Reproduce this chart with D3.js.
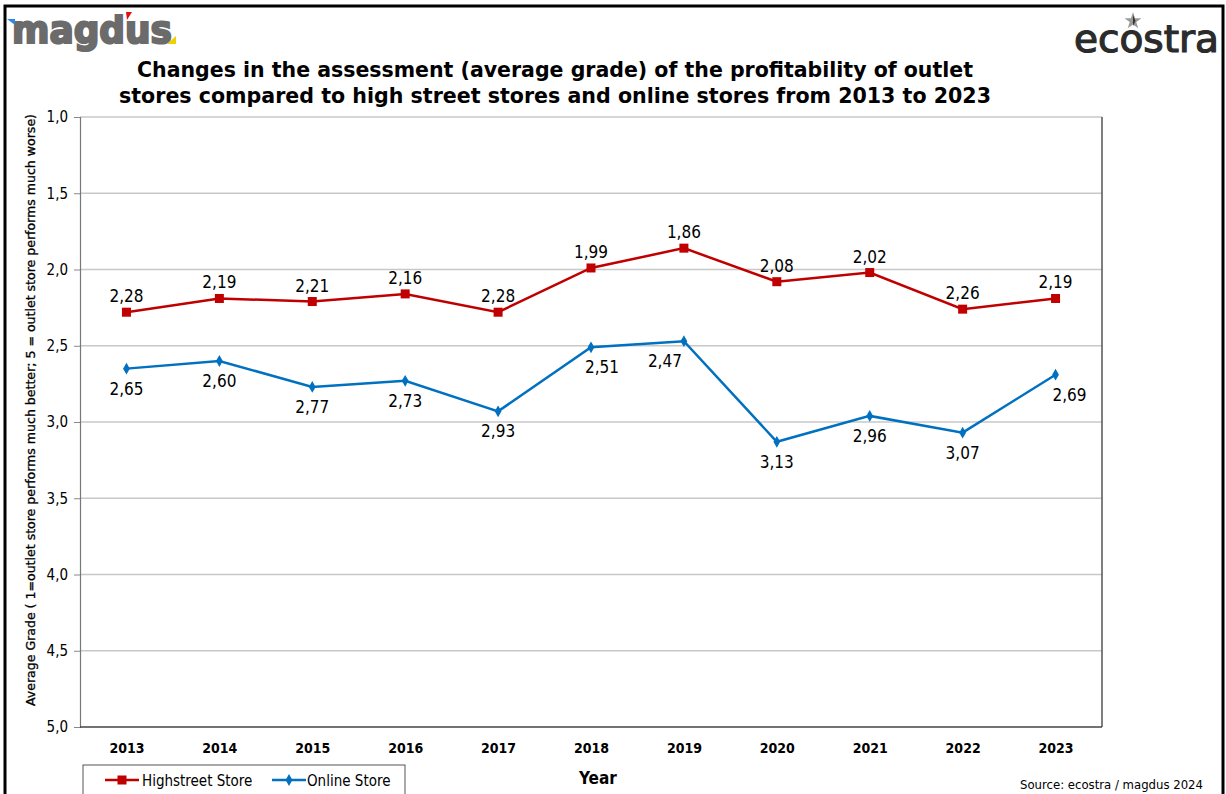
<!DOCTYPE html>
<html><head><meta charset="utf-8">
<script src="https://cdn.jsdelivr.net/npm/d3@7"></script>
<style>body{margin:0;background:#fff}svg{display:block}</style>
</head><body>
<svg id="c" width="1226" height="794"></svg>
<script>
const years = ["2013","2014","2015","2016","2017","2018","2019","2020","2021","2022","2023"];
const highstreet = [2.28,2.19,2.21,2.16,2.28,1.99,1.86,2.08,2.02,2.26,2.19];
const online = [2.65,2.60,2.77,2.73,2.93,2.51,2.47,3.13,2.96,3.07,2.69];
const yTicks = [1.0,1.5,2.0,2.5,3.0,3.5,4.0,4.5,5.0];
const seriesNames = ["Highstreet Store","Online Store"];

const svg = d3.select("#c");
const m={l:80,r:1102,t:117,b:727};
const RED="#C00000", BLUE="#0070C0";
const FONT="'DejaVu Sans Condensed','DejaVu Sans',sans-serif";
const fmt = v => v.toFixed(2).replace(".",",");

// outer frame
svg.append("rect").attr("x",5).attr("y",6).attr("width",1218).attr("height",800)
  .attr("fill","none").attr("stroke","#000").attr("stroke-width",3);

const x = d3.scalePoint().domain(years).range([m.l,m.r]).padding(0.5);
const y = d3.scaleLinear().domain([1,5]).range([m.t,m.b]);

// grid
svg.append("g").selectAll("line").data(yTicks.slice(0,-1)).join("line")
  .attr("x1",m.l).attr("x2",m.r).attr("y1",d=>y(d)).attr("y2",d=>y(d))
  .attr("stroke","#c8c8c8").attr("stroke-width",1.5);

// y axis
const ya = svg.append("g").attr("transform",`translate(${m.l},0)`)
  .call(d3.axisLeft(y).tickValues(yTicks).tickSize(6).tickFormat(d=>d.toFixed(1).replace(".",",")));
ya.select(".domain").attr("stroke","#777").attr("stroke-width",1.2);
ya.selectAll(".tick line").attr("stroke","#888");
ya.selectAll(".tick text").attr("font-family",FONT).attr("font-size",15).attr("fill","#000").attr("x",-12);

// plot border right & bottom
svg.append("line").attr("x1",m.r).attr("x2",m.r).attr("y1",m.t).attr("y2",m.b).attr("stroke","#555").attr("stroke-width",1.5);
svg.append("line").attr("x1",m.l).attr("x2",m.r).attr("y1",m.b).attr("y2",m.b).attr("stroke","#444").attr("stroke-width",1.5);

// x axis labels
const xa = svg.append("g").attr("transform",`translate(0,${m.b})`)
  .call(d3.axisBottom(x).tickSize(0));
xa.select(".domain").remove();
xa.selectAll(".tick text").attr("font-family",FONT).attr("font-size",14).attr("font-weight","bold")
  .attr("fill","#000").attr("dy","1.65em");

// lines
const line = d3.line().x((d,i)=>x(years[i])).y(d=>y(d));
svg.append("path").datum(highstreet).attr("d",line).attr("fill","none").attr("stroke",RED).attr("stroke-width",2.5);
svg.append("path").datum(online).attr("d",line).attr("fill","none").attr("stroke",BLUE).attr("stroke-width",2.5);

svg.append("g").selectAll("rect").data(highstreet).join("rect")
  .attr("x",(d,i)=>x(years[i])-4.5).attr("y",d=>y(d)-4.5).attr("width",9).attr("height",9).attr("fill",RED);
const dia = d3.symbol().type(d3.symbolDiamond).size(40);
svg.append("g").selectAll("path").data(online).join("path")
  .attr("d",dia).attr("transform",(d,i)=>`translate(${x(years[i])},${y(d)})`).attr("fill",BLUE);

// data labels
const blueNudge = {"2018":11,"2019":-19,"2023":14};
svg.append("g").selectAll("text").data(highstreet).join("text")
  .attr("x",(d,i)=>x(years[i])).attr("y",d=>y(d)-10)
  .attr("text-anchor","middle").attr("font-family",FONT).attr("font-size",17).attr("fill","#000").text(fmt);
svg.append("g").selectAll("text").data(online).join("text")
  .attr("x",(d,i)=>x(years[i])+(blueNudge[years[i]]||0)).attr("y",d=>y(d)+26)
  .attr("text-anchor","middle").attr("font-family",FONT).attr("font-size",17).attr("fill","#000").text(fmt);

// title
const title = svg.append("text").attr("text-anchor","middle").attr("font-family",FONT)
  .attr("font-weight","bold").attr("font-size",21).attr("fill","#000");
title.append("tspan").attr("x",555).attr("y",77).attr("textLength",836).attr("lengthAdjust","spacingAndGlyphs")
  .text("Changes in the assessment (average grade) of the profitability of outlet");
title.append("tspan").attr("x",555).attr("y",103).attr("textLength",872).attr("lengthAdjust","spacingAndGlyphs")
  .text("stores compared to high street stores and online stores from 2013 to 2023");

// y axis title
svg.append("text").attr("transform","translate(35,410) rotate(-90)").attr("text-anchor","middle")
  .attr("font-family",FONT).attr("font-size",12).attr("fill","#000").attr("stroke","#000").attr("stroke-width",0.3)
  .attr("textLength",592).attr("lengthAdjust","spacingAndGlyphs")
  .text("Average Grade ( 1=outlet store performs much better; 5 = outlet store performs much worse)");

// x axis title
svg.append("text").attr("x",598).attr("y",784).attr("text-anchor","middle").attr("font-family",FONT)
  .attr("font-size",17).attr("font-weight","bold").text("Year");

// legend
const lg = svg.append("g");
lg.append("rect").attr("x",83).attr("y",765).attr("width",322).attr("height",40).attr("fill","#fff").attr("stroke","#555").attr("stroke-width",1);
const legendItems = [{n:seriesNames[0],c:RED,x0:105,tx:142,sym:"sq"},{n:seriesNames[1],c:BLUE,x0:272,tx:307,sym:"di"}];
legendItems.forEach(it=>{
  lg.append("line").attr("x1",it.x0).attr("x2",it.x0+34).attr("y1",780).attr("y2",780).attr("stroke",it.c).attr("stroke-width",2.5);
  if(it.sym==="sq") lg.append("rect").attr("x",it.x0+17-4.5).attr("y",775.5).attr("width",9).attr("height",9).attr("fill",it.c);
  else lg.append("path").attr("d",dia).attr("transform",`translate(${it.x0+17},780)`).attr("fill",it.c);
  lg.append("text").attr("x",it.tx).attr("y",785.5).attr("font-family",FONT).attr("font-size",15).attr("fill","#000").text(it.n);
});

// source
svg.append("text").attr("x",1203).attr("y",789).attr("text-anchor","end").attr("font-family",FONT)
  .attr("font-size",13).attr("fill","#000").text("Source: ecostra / magdus 2024");

// magdus logo
const mg = svg.append("g");
mg.append("text").attr("x",12).attr("y",43).attr("font-family","'DejaVu Sans',sans-serif").attr("font-weight","bold")
  .attr("font-size",38).attr("fill","#6b6b6b").attr("stroke","#6b6b6b").attr("stroke-width",2.2)
  .attr("textLength",160).attr("lengthAdjust","spacingAndGlyphs").text("magdus");
mg.append("path").attr("d","M7,19 L15,19 L15,25 Z").attr("fill","#2a8be0");
mg.append("path").attr("d","M126,12 L132,12 L127,20 Z").attr("fill","#e01010");
mg.append("path").attr("d","M176,36 L176,44 L167,44 Z").attr("fill","#f0d000");

// ecostra logo
const ec = svg.append("g");
ec.append("text").attr("x",1074).attr("y",52).attr("font-family","'DejaVu Sans',sans-serif")
  .attr("font-size",38).attr("fill","#2b2b2b").attr("stroke","#2b2b2b").attr("stroke-width",1.2)
  .attr("textLength",145).attr("lengthAdjust","spacingAndGlyphs").text("ecostra");
ec.append("path").attr("d",d3.symbol().type(d3.symbolStar).size(90)()).attr("transform","translate(1133,21)").attr("fill","#999");
ec.append("path").attr("d","M1133,15 L1135.5,21 L1133,26 Z").attr("fill","#333");
</script>
</body></html>
